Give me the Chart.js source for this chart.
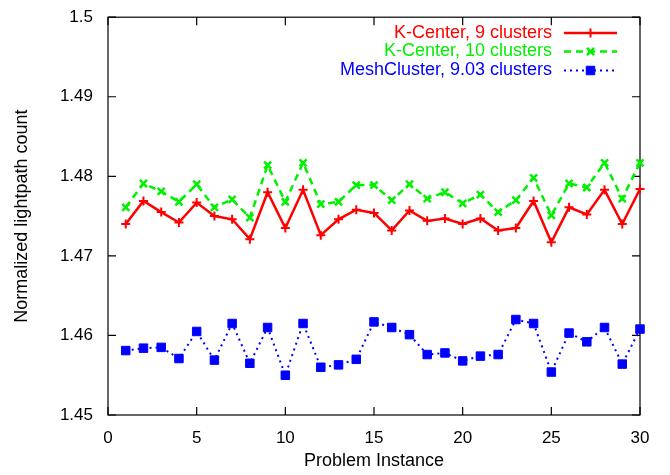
<!DOCTYPE html>
<html>
<head>
<meta charset="utf-8">
<script src="https://cdn.jsdelivr.net/npm/chart.js@4/dist/chart.umd.min.js"></script>
<style>
  html, body { margin: 0; padding: 0; background: #fff; }
  canvas { display: block; }
</style>
</head>
<body>
<canvas id="chart" width="670" height="475"></canvas>
<script>
// values
const instances = [1, 2, 3, 4, 5, 6, 7, 8, 9, 10, 11, 12, 13, 14, 15,
  16, 17, 18, 19, 20, 21, 22, 23, 24, 25, 26, 27, 28, 29, 30];

const kCenter9 = [1.4740, 1.4769, 1.4755, 1.4742, 1.4767, 1.4750, 1.4746, 1.4721, 1.4780, 1.4735,
  1.4783, 1.4726, 1.4746, 1.4758, 1.4754, 1.4732, 1.4757, 1.4744, 1.4747, 1.4740,
  1.4747, 1.4732, 1.4735, 1.4769, 1.4717, 1.4761, 1.4752, 1.4783, 1.4740, 1.4784];

const kCenter10 = [1.4761, 1.4791, 1.4781, 1.4768, 1.4790, 1.4761, 1.4771, 1.4748, 1.4814, 1.4768,
  1.4817, 1.4765, 1.4768, 1.4789, 1.4789, 1.4770, 1.4790, 1.4772, 1.4780, 1.4766,
  1.4777, 1.4755, 1.4770, 1.4798, 1.4751, 1.4791, 1.4786, 1.4817, 1.4772, 1.4817];

const meshCluster = [1.4581, 1.4584, 1.4585, 1.4571, 1.4605, 1.4569, 1.4615, 1.4565, 1.4610, 1.4550,
  1.4615, 1.4560, 1.4563, 1.4570, 1.4617, 1.4610, 1.4601, 1.4576, 1.4578, 1.4568,
  1.4574, 1.4576, 1.4620, 1.4615, 1.4554, 1.4603, 1.4592, 1.4610, 1.4564, 1.4608];

const seriesLabels = ['K-Center, 9 clusters', 'K-Center, 10 clusters', 'MeshCluster, 9.03 clusters'];

const FONT = "'Liberation Sans', Arial, Helvetica, sans-serif";
const TICK_FONT_SIZE = 17;
const TEXT_FONT_SIZE = 18;
const TICK_LEN = 8;

Chart.defaults.font.family = FONT;
Chart.defaults.font.size = TICK_FONT_SIZE;
Chart.defaults.color = '#000';

function toPoints(values) {
  return values.map((v, i) => ({ x: instances[i], y: v }));
}

// gnuplot-like frame with inward ticks on all four sides
const framePlugin = {
  id: 'frame',
  beforeDatasetsDraw(chart) {
    const { ctx, chartArea: a, scales } = chart;
    ctx.save();
    ctx.strokeStyle = '#000';
    ctx.lineWidth = 1.2;
    ctx.strokeRect(a.left, a.top, a.right - a.left, a.bottom - a.top);
    ctx.beginPath();
    scales.x.ticks.forEach(t => {
      const px = scales.x.getPixelForValue(t.value);
      ctx.moveTo(px, a.bottom); ctx.lineTo(px, a.bottom - TICK_LEN);
      ctx.moveTo(px, a.top); ctx.lineTo(px, a.top + TICK_LEN);
    });
    scales.y.ticks.forEach(t => {
      const py = scales.y.getPixelForValue(t.value);
      ctx.moveTo(a.left, py); ctx.lineTo(a.left + TICK_LEN, py);
      ctx.moveTo(a.right, py); ctx.lineTo(a.right - TICK_LEN, py);
    });
    ctx.stroke();
    ctx.restore();
  },
};

// legend in the top right corner, text right aligned before the sample line
const legendPlugin = {
  id: 'gpLegend',
  afterDraw(chart) {
    const { ctx } = chart;
    const textRight = 552;
    const lineFrom = 564, lineTo = 617;
    const rowY = [33, 51.5, 70.5];
    ctx.save();
    ctx.font = TEXT_FONT_SIZE + 'px ' + FONT;
    ctx.textAlign = 'right';
    ctx.textBaseline = 'middle';
    chart.data.datasets.forEach((ds, i) => {
      const y = rowY[i];
      ctx.fillStyle = ds.borderColor;
      ctx.fillText(ds.label, textRight, y);
      ctx.strokeStyle = ds.borderColor;
      ctx.lineWidth = ds.borderWidth;
      ctx.setLineDash(ds.borderDash || []);
      ctx.beginPath();
      ctx.moveTo(lineFrom, y);
      ctx.lineTo(lineTo, y);
      ctx.stroke();
      ctx.setLineDash([]);
      if (Chart.helpers && Chart.helpers.drawPoint) {
        ctx.lineWidth = ds.pointBorderWidth;
        ctx.fillStyle = ds.borderColor;
        Chart.helpers.drawPoint(ctx, {
          pointStyle: ds.pointStyle,
          radius: ds.pointRadius,
          borderWidth: ds.pointBorderWidth,
          rotation: 0,
        }, (lineFrom + lineTo) / 2, y);
      }
    });
    ctx.restore();
  },
};

new Chart(document.getElementById('chart'), {
  type: 'line',
  data: {
    datasets: [
      {
        label: seriesLabels[0],
        data: toPoints(kCenter9),
        borderColor: '#ff0000',
        backgroundColor: '#ff0000',
        borderWidth: 2.5,
        pointStyle: 'cross',
        pointRadius: 4.5,
        pointBorderWidth: 2,
        clip: false,
      },
      {
        label: seriesLabels[1],
        data: toPoints(kCenter10),
        borderColor: '#00f000',
        backgroundColor: '#00f000',
        borderWidth: 2.5,
        borderDash: [7, 5],
        pointStyle: 'crossRot',
        pointRadius: 5,
        pointBorderWidth: 2.5,
        clip: false,
      },
      {
        label: seriesLabels[2],
        data: toPoints(meshCluster),
        borderColor: '#0000ff',
        backgroundColor: '#0000ff',
        borderWidth: 2,
        borderDash: [2, 4],
        pointStyle: 'rect',
        pointRadius: 6,
        pointBorderWidth: 1,
        clip: false,
      },
    ],
  },
  options: {
    responsive: false,
    animation: false,
    layout: { padding: { top: 15, right: 30, bottom: 0, left: 0 } },
    elements: { line: { tension: 0, fill: false } },
    plugins: {
      legend: { display: false },
      tooltip: { enabled: false },
    },
    scales: {
      x: {
        type: 'linear',
        min: 0,
        max: 30,
        grid: { display: false },
        border: { display: false },
        ticks: { stepSize: 5, padding: 5, maxRotation: 0, autoSkip: false },
        title: {
          display: true,
          text: 'Problem Instance',
          font: { size: TEXT_FONT_SIZE },
          padding: { top: 0, bottom: 3 },
        },
        afterFit(scale) { scale.height = 60; },
      },
      y: {
        min: 1.45,
        max: 1.5,
        grid: { display: false },
        border: { display: false },
        ticks: {
          stepSize: 0.01,
          padding: 7,
          callback: v => String(+v.toFixed(2)),
        },
        title: {
          display: true,
          text: 'Normalized lightpath count',
          font: { size: TEXT_FONT_SIZE },
          padding: { top: 11, bottom: 0 },
        },
        afterFit(scale) { scale.width = 108; },
      },
    },
  },
  plugins: [framePlugin, legendPlugin],
});
</script>
</body>
</html>
